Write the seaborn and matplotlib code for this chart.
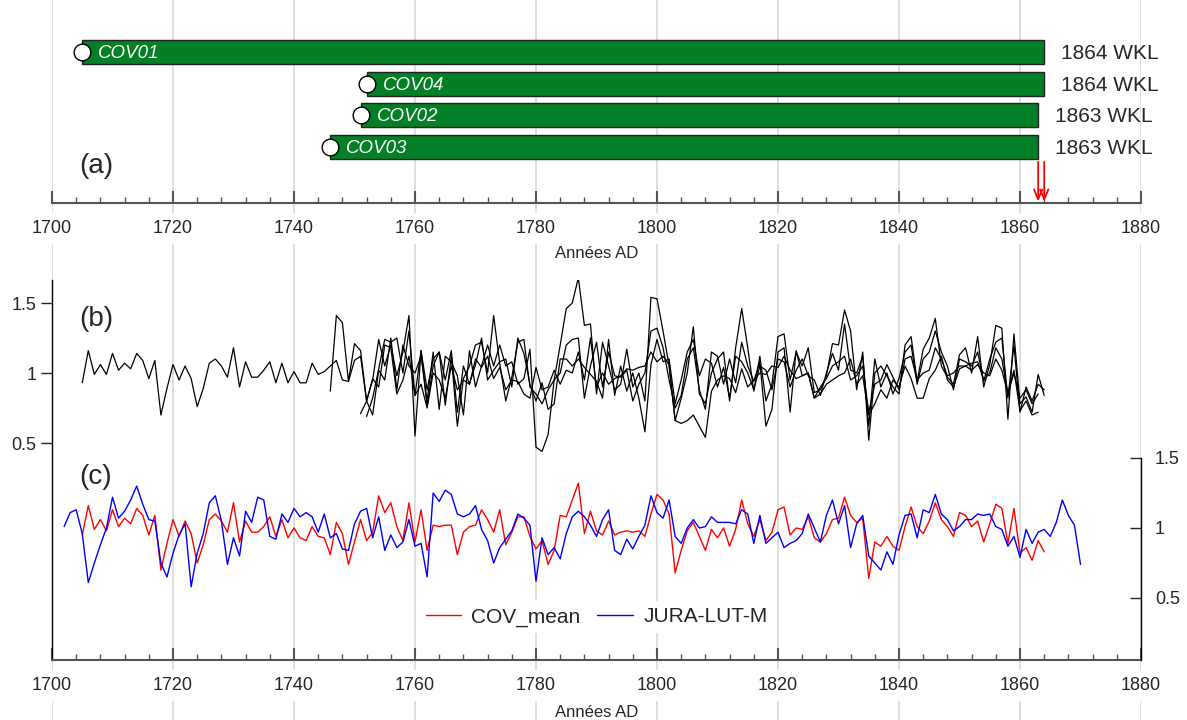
import numpy as np
import seaborn as sns
import matplotlib.pyplot as plt

sns.set_style('white')
plt.rcParams['font.family'] = ['Liberation Sans', 'DejaVu Sans']

# (a) cores: name, first ring, last ring (waney edge)
cores = ['COV01', 'COV04', 'COV02', 'COV03']
core_start = [1705, 1752, 1751, 1746]
core_end = [1864, 1864, 1863, 1863]

# (b) individual indexed series (first year = core_start)
cov01 = [0.93, 1.16, 0.99, 1.06, 0.99, 1.14, 1.02, 1.07, 1.03, 1.14,
         1.09, 0.96, 1.09, 0.70, 0.89, 1.06, 0.95, 1.05, 0.96, 0.76,
         0.89, 1.07, 1.10, 1.05, 0.97, 1.18, 0.90, 1.08, 0.97, 0.97,
         1.02, 1.08, 0.93, 1.07, 0.93, 1.01, 0.93, 0.93, 1.07, 0.99,
         1.01,
         1.05, 1.09, 0.95, 0.94, 1.09, 1.12, 0.80, 0.95, 1.24, 1.05,
         1.20, 0.98, 1.15, 1.41, 0.55, 1.16, 0.88, 1.10, 1.15, 0.77,
         1.12, 0.62, 0.96, 1.05, 1.20, 1.22, 1.00, 1.41, 1.07, 0.80,
         0.97, 1.22, 1.24, 0.90, 0.85, 0.78, 0.88, 0.95, 1.20, 1.46,
         1.50, 1.68, 1.34, 1.35, 0.85, 1.22, 1.05, 0.88, 0.92, 1.17,
         0.90, 1.00, 0.80, 1.54, 1.53, 1.30, 1.05, 0.66, 0.82, 1.00,
         1.33, 0.85, 0.78, 1.00, 1.10, 1.15, 0.80, 1.18, 1.46, 1.18,
         0.87, 1.12, 0.80, 0.92, 1.26, 1.28, 0.95, 1.15, 1.05, 1.18,
         0.86, 0.88, 0.98, 1.21, 1.20, 1.45, 1.30, 0.88, 1.15, 0.52,
         1.00, 1.05, 0.98, 0.90, 0.85, 1.20, 1.26, 0.94, 1.17, 1.25,
         1.39, 1.05, 0.97, 0.92, 1.13, 1.18, 1.00, 1.26, 0.90, 1.06,
         1.34, 1.32, 0.67, 1.28, 0.78, 0.83, 0.72, 0.99, 0.84]
cov04 = [0.69, 0.82, 1.03, 1.24, 1.22, 1.25, 1.00, 1.30, 0.84, 1.16,
         0.76, 1.05, 1.15, 0.95, 1.16, 0.72, 1.05, 0.92, 1.06, 1.25,
         0.95, 1.02, 1.08, 1.10, 0.90, 1.25, 1.14, 0.92, 0.80, 0.93,
         0.74, 0.78, 1.10, 1.10, 1.05, 1.10, 1.04, 0.99, 0.94, 0.82,
         1.24, 0.84, 1.05, 0.87, 1.00, 0.82, 0.58, 1.06, 1.24, 1.08,
         1.10, 0.78, 0.95, 1.15, 1.24, 0.98, 1.10, 1.07, 0.90, 1.04,
         0.82, 1.12, 1.08, 1.00, 0.88, 1.05, 1.02, 0.88, 1.10, 1.08,
         0.90, 1.02, 1.10, 0.98, 0.95, 0.84, 1.00, 1.14, 1.02, 1.35,
         1.02, 1.00, 1.12, 0.62, 1.10, 0.90, 1.00, 0.85, 0.96, 1.15,
         1.20, 0.92, 1.10, 1.15, 1.30, 1.15, 1.05, 0.88, 1.10, 1.08,
         1.05, 1.15, 0.94, 1.10, 1.22, 1.25, 0.82, 1.20, 0.72, 0.90,
         0.80, 0.92, 0.88]
cov02 = [0.71, 0.80, 0.96, 0.90, 1.20, 1.18, 0.85, 0.95, 1.12, 0.84,
         0.92, 0.75, 1.00, 0.95, 0.82, 1.05, 0.88, 0.95, 0.92, 1.10,
         1.04, 1.12, 0.96, 1.04, 0.88, 0.95, 0.94, 0.85, 0.82, 1.04,
         0.88, 0.90, 1.02, 0.92, 1.02, 1.00, 1.15, 0.95, 1.25, 0.90,
         1.00, 0.92, 0.96, 0.98, 1.03, 1.02, 1.04, 1.05, 1.15, 1.08,
         1.12, 1.06, 0.66, 0.64, 0.66, 0.70, 0.62, 0.54, 0.87, 0.95,
         0.98, 0.96, 0.86, 1.03, 0.90, 0.95, 1.00, 0.99, 1.05, 1.04,
         1.12, 1.02, 0.96, 0.98, 1.00, 0.82, 0.85, 0.92, 0.95, 0.98,
         1.00, 1.10, 0.92, 0.98, 0.70, 0.78, 0.88, 0.82, 0.95, 0.90,
         1.05, 0.96, 0.82, 0.82, 0.96, 1.02, 1.12, 0.95, 0.90, 1.03,
         1.05, 1.02, 1.06, 1.00, 0.98, 1.10, 1.02, 0.85, 1.00, 0.82,
         0.88, 0.78, 0.85]
cov03 = [0.87, 1.41, 1.36, 0.94, 1.21, 1.16, 0.80, 0.70, 1.02, 0.95,
         1.25, 0.88, 1.20, 1.05, 1.00, 1.12, 0.80, 1.15, 0.74, 1.12,
         1.08, 0.98, 0.70, 1.16, 0.90, 1.05, 1.20, 1.05, 1.20, 1.05,
         1.08, 0.92, 0.96, 1.17, 0.47, 0.44, 0.56, 0.95, 1.00, 1.20,
         1.24, 1.25, 0.82, 1.05, 1.22, 0.90, 1.15, 0.98, 0.97, 1.02,
         0.80, 0.92, 1.00, 1.30, 1.32, 1.18, 0.95, 0.75, 0.84, 1.10,
         1.18, 0.88, 0.74, 1.15, 1.12, 0.92, 1.10, 0.93, 1.22, 1.05,
         0.94, 1.08, 0.62, 0.74, 1.15, 1.18, 0.72, 1.16, 0.98, 1.00,
         0.82, 0.90, 0.96, 1.05, 1.08, 1.12, 0.95, 0.98, 1.05, 0.72,
         0.92, 0.95, 1.06, 0.97, 0.88, 1.10, 1.12, 0.95, 1.00, 1.02,
         1.18, 1.10, 0.98, 1.00, 1.05, 1.05, 1.07, 1.08, 0.95, 1.00,
         1.18, 1.10, 0.85, 1.02, 0.73, 0.80, 0.70, 0.72]
series_b = {'COV01': cov01, 'COV04': cov04, 'COV02': cov02, 'COV03': cov03}

# (c) site mean vs regional reference
mean_start = 1705
cov_mean = [0.95, 1.16, 0.99, 1.06, 0.98, 1.13, 1.01, 1.07, 1.03, 1.14,
            1.09, 0.95, 1.09, 0.70, 0.89, 1.06, 0.94, 1.05, 0.96, 0.75,
            0.88, 1.06, 1.10, 1.05, 0.97, 1.18, 0.90, 1.05, 0.97, 0.97,
            1.01, 1.08, 0.94, 1.06, 0.93, 1.00, 0.93, 0.91, 1.01, 0.94,
            0.93, 0.81, 1.04, 0.96, 0.74, 0.90, 1.06, 0.91, 0.97, 1.23,
            1.11, 1.18, 1.01, 0.91, 1.18, 0.90, 1.13, 0.84, 1.02, 1.01,
            1.02, 1.02, 0.81, 0.97, 1.01, 1.02, 1.13, 1.06, 0.97, 1.13,
            0.88, 0.97, 1.08, 1.08, 0.94, 0.85, 0.91, 0.74, 0.84, 1.09,
            1.08, 1.20, 1.32, 0.96, 1.12, 0.98, 0.95, 1.05, 0.95, 0.97,
            0.98, 0.97, 0.98, 0.94, 1.10, 1.24, 1.20, 1.10, 0.68, 0.84,
            0.98, 1.04, 0.94, 0.84, 0.99, 0.93, 1.00, 0.87, 0.99, 1.20,
            1.03, 0.94, 1.06, 0.91, 0.97, 1.13, 1.15, 0.95, 1.00, 0.99,
            1.08, 0.93, 0.90, 0.96, 1.06, 1.07, 1.22, 1.09, 1.04, 1.07,
            0.64, 0.90, 0.87, 0.94, 0.87, 0.84, 1.01, 1.15, 1.01, 0.96,
            1.05, 1.18, 1.06, 1.01, 0.94, 1.11, 1.09, 1.01, 1.05, 0.90,
            1.03, 1.17, 1.14, 0.89, 1.14, 0.82, 0.86, 0.77, 0.91, 0.83]
jura_start = 1702
jura = [1.01, 1.11, 1.13, 0.96, 0.61, 0.75, 0.88, 1.00, 1.22, 1.07,
        1.12, 1.20, 1.30, 1.17, 1.06, 1.05, 0.75, 0.65, 0.82, 0.95,
        1.03, 0.58, 0.82, 0.96, 1.18, 1.23, 1.05, 0.74, 0.93, 0.80,
        1.12, 1.04, 1.22, 1.20, 0.94, 0.92, 1.10, 1.04, 1.14, 1.08,
        1.11, 1.08, 0.97, 1.10, 0.93, 0.96, 0.85, 0.84, 1.03, 1.12,
        1.14, 0.93, 1.08, 0.84, 0.95, 0.86, 0.90, 1.06, 0.87, 0.89,
        0.65, 1.25, 1.19, 1.27, 1.24, 1.10, 1.08, 1.10, 1.16, 0.99,
        0.91, 0.75, 0.86, 0.92, 0.98, 1.10, 1.07, 1.02, 0.62, 0.93,
        0.81, 0.86, 0.78, 0.96, 1.08, 1.12, 1.08, 1.02, 0.94, 1.06,
        1.13, 0.84, 0.81, 0.92, 0.85, 0.94, 1.02, 1.23, 1.11, 1.07,
        1.20, 0.94, 0.89, 1.00, 1.06, 1.00, 1.01, 1.08, 1.04, 1.04,
        1.04, 1.03, 1.13, 1.10, 0.89, 1.09, 0.89, 0.93, 0.97, 0.86,
        0.89, 0.91, 0.96, 1.10, 1.00, 0.90, 1.09, 1.20, 1.03, 1.16,
        0.86, 1.03, 1.09, 0.80, 0.75, 0.70, 0.83, 0.74, 0.95, 1.09,
        1.10, 0.93, 1.13, 1.11, 1.24, 1.10, 1.06, 0.98, 1.01, 1.06,
        1.06, 1.10, 1.09, 1.10, 1.01, 0.99, 0.87, 0.94, 0.79, 0.99,
        0.89, 0.97, 0.99, 0.94, 1.04, 1.20, 1.09, 1.02, 0.74]

W, H = 1187, 720
fig = plt.figure(figsize=(W / 100, H / 100), dpi=100)


def box(left, top, right, bottom):
    # pixel box -> figure fraction
    return [left / W, 1 - bottom / H, (right - left) / W, (bottom - top) / H]


grid_years = np.arange(1700, 1881, 20)
axis_grey = '#555555'

# vertical grid running through the whole figure
bg = fig.add_axes(box(52, 0, 1141, 720), zorder=-1)
bg.set_xlim(1700, 1880)
bg.axis('off')
for yr in grid_years:
    bg.axvline(yr, color='#dcdcdc', lw=1.3)


def style_xaxis(ax, labelpad):
    ax.set_xlim(1700, 1880)
    ax.set_xticks(grid_years)
    ax.set_xticks(np.arange(1700, 1881, 4), minor=True)
    ax.tick_params(axis='x', which='major', bottom=True, direction='in',
                   length=9, width=1.5, color=axis_grey, labelsize=13, pad=12)
    ax.tick_params(axis='x', which='minor', bottom=True, direction='in',
                   length=4, width=1, color=axis_grey)
    ax.spines['bottom'].set_color(axis_grey)
    ax.spines['bottom'].set_linewidth(1.5)
    for t in ax.get_xticklabels():
        t.set_bbox(dict(facecolor='white', edgecolor='none', pad=5))
    ax.set_xlabel('Années AD', fontsize=12, labelpad=labelpad)


# ---- (a) core coverage
ax_a = fig.add_axes(box(52, 20, 1141, 203))
ax_a.set_facecolor('none')
rows = np.arange(len(cores))
spans = np.array(core_end) - np.array(core_start)
ax_a.barh(rows, spans, left=core_start, height=0.76, color='#037f26',
          edgecolor='#222222', lw=1, zorder=2)
ax_a.plot(core_start, rows, 'o', ms=12, mfc='white', mec='black', mew=1,
          zorder=3)
for r, name, s, e in zip(rows, cores, core_start, core_end):
    ax_a.annotate(name, (s, r), xytext=(11.5, -1), textcoords='offset points',
                  color='white', style='italic', fontsize=13.5, va='center',
                  zorder=4)
    ax_a.annotate(f'{e} WKL', (e, r), xytext=(12, -1),
                  textcoords='offset points', fontsize=15, va='center')
for e in sorted(set(core_end)):
    ax_a.annotate('', xy=(e, 4.72), xytext=(e, 3.47),
                  arrowprops=dict(arrowstyle='->,head_length=0.7,head_width=0.3',
                                  color='red', lw=1.3, shrinkA=0, shrinkB=0))
ax_a.set_ylim(4.768, -1.01)
ax_a.set_yticks([])
for s in ['left', 'right', 'top']:
    ax_a.spines[s].set_visible(False)
style_xaxis(ax_a, 7)

# ---- (b) and (c) share one frame
ax_b = fig.add_axes(box(52, 280, 1141, 660))
ax_b.set_facecolor('none')
for name, vals in series_b.items():
    start = core_start[cores.index(name)]
    sns.lineplot(x=np.arange(start, start + len(vals)), y=vals, ax=ax_b,
                 color='black', lw=0.9)
ax_b.set_ylim(1 - (660 - 373) / 140, 1 + (373 - 280) / 140)
ax_b.set_yticks([0.5, 1, 1.5], ['0.5', '1', '1.5'])
ax_b.tick_params(axis='y', left=True, direction='out', length=8, width=1,
                 labelsize=13, pad=3)
ax_b.set_ylabel('')
for s in ['right', 'top']:
    ax_b.spines[s].set_visible(False)
ax_b.spines['left'].set_color('black')
ax_b.spines['left'].set_linewidth(1)
style_xaxis(ax_b, 8)

ax_c = ax_b.twinx()
sns.lineplot(x=np.arange(mean_start, mean_start + len(cov_mean)), y=cov_mean,
             ax=ax_c, color='red', lw=1, label='COV_mean')
sns.lineplot(x=np.arange(jura_start, jura_start + len(jura)), y=jura,
             ax=ax_c, color='blue', lw=1, label='JURA-LUT-M')
c_low = 1 - (660 - 528) / 140
ax_c.set_ylim(c_low, 1 + (528 - 280) / 140)
ax_c.set_yticks([0.5, 1, 1.5], ['0.5', '1', '1.5'])
ax_c.tick_params(axis='y', right=True, direction='in', length=8, width=1,
                 labelsize=13, pad=10)
ax_c.set_ylabel('')
for s in ['left', 'top', 'bottom']:
    ax_c.spines[s].set_visible(False)
ax_c.spines['right'].set_bounds(c_low, 1.5)
ax_c.spines['right'].set_color('black')
ax_c.spines['right'].set_linewidth(1)
ax_c.legend(loc='center', bbox_to_anchor=(0.5, 0.113), ncol=2,
            fontsize=15, frameon=True, facecolor='white',
            edgecolor='none', framealpha=1, handlelength=1.7,
            handletextpad=0.5, columnspacing=0.8, borderpad=0.3)

# panel letters
for lab, (px, py) in {'(a)': (96, 166), '(b)': (96, 319),
                      '(c)': (96, 477)}.items():
    fig.text(px / W, 1 - py / H, lab, fontsize=20, ha='center', va='center')

fig.savefig('out.png', dpi=100)
